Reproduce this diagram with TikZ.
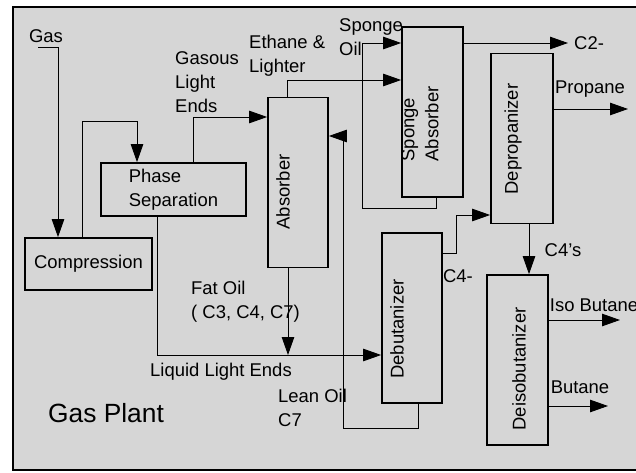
\documentclass[tikz,border=0pt]{standalone}
\usepackage{fontspec}
\setmainfont{Liberation Sans}
\usetikzlibrary{arrows.meta,calc}

\begin{document}
\begin{tikzpicture}[x=0.02cm, y=-0.02cm, every node/.style={font=\fontsize{10.5}{13.6}\selectfont}, unit/.style={draw, line width=1pt, inner sep=0pt}, col/.style={unit, minimum width=1.22cm, minimum height=3.4cm}, vtext/.style={rotate=90, align=left}, lbl/.style={align=left, anchor=west}, arr/.style={-{Triangle[length=3.6mm,width=2.5mm]}, line width=0.5pt}]
\useasboundingbox (0,0) rectangle (636,473);
\draw[line width=1.6pt, fill=black!16] (13,7) rectangle (660,470);
% units
\node[unit, minimum width=2.54cm, minimum height=1.04cm] (comp) at (88.5,264) {Compression};
\node[unit, minimum width=2.9cm, minimum height=1.06cm, align=left] (phase) at (173.5,189.5) {Phase\\Separation};
\node[col, minimum width=1.2cm] (absorber) at (298,182.5) {};
\node[col] (sponge) at (432.5,112) {};
\node[col, minimum width=1.24cm] (deprop) at (522,138.5) {};
\node[col, minimum width=1.2cm] (debut) at (412,318) {};
\node[col] (deiso) at (517.5,360) {};
\node[vtext] (absorber-t) at (283,192) {Absorber};
\node[vtext] (sponge-t) at (420,124) {Sponge\\Absorber};
\node[vtext] (deprop-t) at (513,139) {Depropanizer};
\node[vtext] (debut-t) at (397,329) {Debutanizer};
\node[vtext] (deiso-t) at (519,369) {Deisobutanizer};
% stream labels
\node (gas) at (46,36) {Gas};
\coordinate (gasin) at (38,47);
\node[lbl] (gasous) at (169,82) {Gasous\\Light\\Ends};
\node[lbl] (ethane) at (243,56) {Ethane \&\\Lighter};
\node[lbl] (spoil) at (333,37) {Sponge\\Oil};
\node[anchor=west] (c2) at (568,43) {C2-};
\node (propane) at (590,89) {Propane};
\coordinate (propane-end) at (628,109);
\node (c4m) at (458,276) {C4-};
\node (c4s) at (563,250) {C4's};
\node (iso) at (594,305) {Iso Butane};
\coordinate (iso-end) at (620,320);
\node (butane) at (580,387) {Butane};
\coordinate (butane-end) at (608,406);
\node[lbl] (fatoil) at (185,302) {Fat Oil\\( C3, C4, C7)};
\node (liquid) at (221,372) {Liquid Light Ends};
\node[lbl] (lean) at (272,408) {Lean Oil\\C7};
\node[font=\fontsize{15}{18}\selectfont] (plant) at (106,413) {Gas Plant};
\coordinate (debin) at ($(debut.west)+(0,37)$);
% streams
\draw[arr] (gasin) -| ($(comp.north)+(-30.5,0)$); \draw[arr] ($(comp.north)+(-6.5,0)$) -- ++(0,-116) -| ($(phase.north)+(-36.5,0)$); \draw[arr] ($(phase.north)+(19.5,0)$) |- ($(absorber.west)+(0,-65.5)$);
\draw[arr] ($(absorber.north)+(-11,0)$) |- ($(sponge.west)+(0,-32)$); \draw[arr] ($(sponge.south)+(3.5,0)$) -- ++(0,11) -- ++(-74,0) |- ($(sponge.west)+(0,-69)$); \draw[arr] ($(sponge.east)+(0,-69)$) -- (c2.west);
\draw[arr] ($(deprop.east)+(0,-29.5)$) -- (propane-end); \draw[arr] ($(debut.east)+(0,-65)$) -- ++(14,0) |- ($(deprop.west)+(0,76.5)$); \draw[arr] ($(deprop.south)+(7,0)$) coordinate (c4out) -- (c4out |- deiso.north);
\draw[arr] ($(deiso.east)+(0,-40)$) -- (iso-end); \draw[arr] ($(deiso.east)+(0,46)$) -- (butane-end);
\draw[arr] ($(phase.south)+(-16.5,0)$) |- (debin); \draw[arr] ($(absorber.south)+(-10,0)$) coordinate (fatout) -- (fatout |- debin);
\draw[arr] ($(debut.south)+(6,0)$) -- ++(0,25) -- ++(-75,0) |- ($(absorber.east)+(0,-46.5)$);
\end{tikzpicture}
\end{document}
